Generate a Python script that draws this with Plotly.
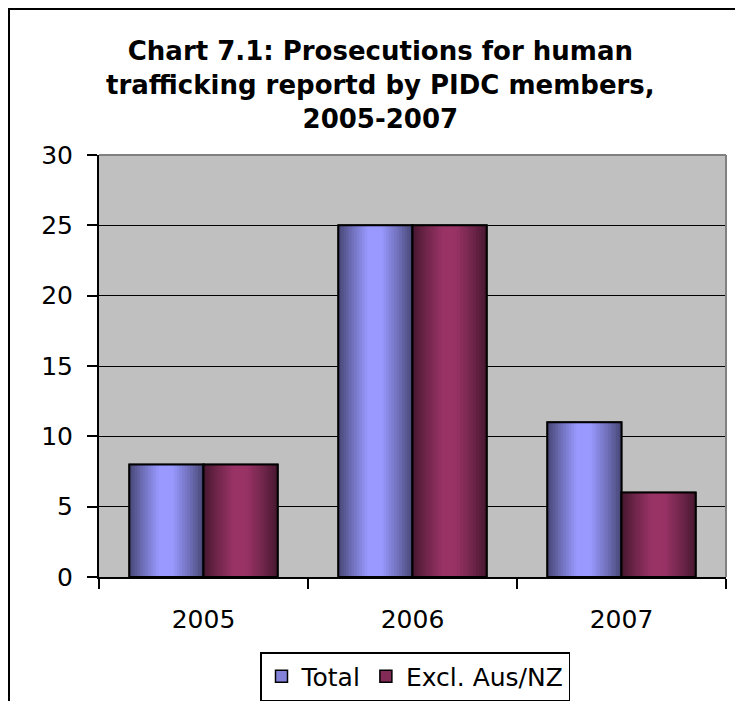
import plotly.graph_objects as go

# ---- data ----
years = ["2005", "2006", "2007"]
total = [8, 25, 11]
excl_aus_nz = [8, 25, 6]
series_names = ["Total", "Excl. Aus/NZ"]
y_ticks = [0, 5, 10, 15, 20, 25, 30]

# ---- style ----
FONT = "DejaVu Sans"
center_colors = [(153, 153, 255), (153, 51, 102)]
BAR_W = 0.355
offsets = [-BAR_W, 0.0]
N_STRIPS = 28


def shade(t):
    # brightness profile across the bar (Excel style horizontal gradient)
    pts = [(0.0, 0.46), (0.18, 0.72), (0.40, 1.0), (0.58, 1.0), (0.80, 0.74), (1.0, 0.46)]
    for (t0, v0), (t1, v1) in zip(pts[:-1], pts[1:]):
        if t0 <= t <= t1:
            return v0 + (v1 - v0) * (t - t0) / (t1 - t0)
    return pts[-1][1]


def rgb(c, f):
    return "rgb(%d,%d,%d)" % tuple(max(0, min(255, round(v * f))) for v in c)


fig = go.Figure()
for vals, name, col, off in zip([total, excl_aus_nz], series_names, center_colors, offsets):
    # base (legend) bar
    fig.add_trace(go.Bar(
        x=years, y=vals, name=name, width=BAR_W, offset=off,
        marker=dict(color=rgb(col, 0.85), line=dict(color="black", width=1.5)),
        legendgroup=name, hoverinfo="skip"))
    # gradient strips: each one starts at the bar's left edge, narrower each step
    for k in range(N_STRIPS):
        idx = N_STRIPS - 1 - k
        t = (idx + 0.5) / N_STRIPS
        fig.add_trace(go.Bar(
            x=years, y=vals, width=BAR_W * (N_STRIPS - k) / N_STRIPS, offset=off,
            marker=dict(color=rgb(col, shade(t)), line=dict(width=0)),
            showlegend=False, legendgroup=name, hoverinfo="skip"))
    # outline
    fig.add_trace(go.Bar(
        x=years, y=vals, width=BAR_W, offset=off,
        marker=dict(color="rgba(0,0,0,0)", line=dict(color="black", width=2)),
        showlegend=False, legendgroup=name, hovertemplate=name + " %{x}: %{y}<extra></extra>"))

# page body has an 8px margin: build the figure 8px smaller and offset everything
PAGE = 8
W, H = 743 - PAGE, 701 - PAGE
L, R, T, B = 99 - PAGE, 743 - 726, 155 - PAGE, 701 - 577
pw, ph = W - L - R, H - T - B


def sx(x):  # screen x -> paper
    return (x - PAGE - L) / pw


def sy(y):  # screen y -> paper
    return (H - B - (y - PAGE)) / ph


fig.update_layout(
    width=W, height=H,
    margin=dict(l=L, r=R, t=T, b=B, autoexpand=False),
    paper_bgcolor="white", plot_bgcolor="#C0C0C0",
    barmode="overlay",
    font=dict(family=FONT, size=25, color="black"),
    showlegend=True,
    legend=dict(orientation="h", x=sx(415), xanchor="center", y=sy(652), yanchor="top",
                bordercolor="black", borderwidth=1.5, bgcolor="white",
                font=dict(family=FONT, size=25, color="black"), traceorder="normal"),
    xaxis=dict(type="category", range=[-0.5, 2.5], tickson="boundaries", ticks="outside",
               ticklen=10, tickwidth=2, tickcolor="black", showline=True, linecolor="black",
               linewidth=2, showgrid=False, ticklabelstandoff=19,
               tickfont=dict(family=FONT, size=25, color="black")),
    yaxis=dict(range=[0, 30], tickvals=y_ticks, ticks="outside", ticklen=10, tickwidth=2,
               tickcolor="black", showline=True, linecolor="black", linewidth=2,
               showgrid=True, gridcolor="black", gridwidth=1.2, zeroline=False,
               ticklabelstandoff=9, tickfont=dict(family=FONT, size=25, color="black")),
    annotations=[dict(
        text="<b>Chart 7.1: Prosecutions for human<br>trafficking reportd by PIDC members,<br>2005-2007</b>",
        xref="paper", yref="paper", x=sx(380), y=sy(85), xanchor="center", yanchor="middle",
        showarrow=False, font=dict(family=FONT, size=26, color="black"), align="center")],
    shapes=[
        # outer chart frame (extends past the window on the right and bottom)
        dict(type="rect", xref="paper", yref="paper", x0=sx(9), y0=sy(780), x1=sx(800),
             y1=sy(9), line=dict(color="black", width=2), fillcolor="rgba(0,0,0,0)", layer="below"),
        # gray top and right plot border
        dict(type="line", xref="paper", yref="paper", x0=0, x1=1, y0=1, y1=1,
             line=dict(color="#808080", width=2), layer="above"),
        dict(type="line", xref="paper", yref="paper", x0=1, x1=1, y0=0, y1=1,
             line=dict(color="#808080", width=2), layer="above"),
    ],
)

fig.write_html("out.html")
